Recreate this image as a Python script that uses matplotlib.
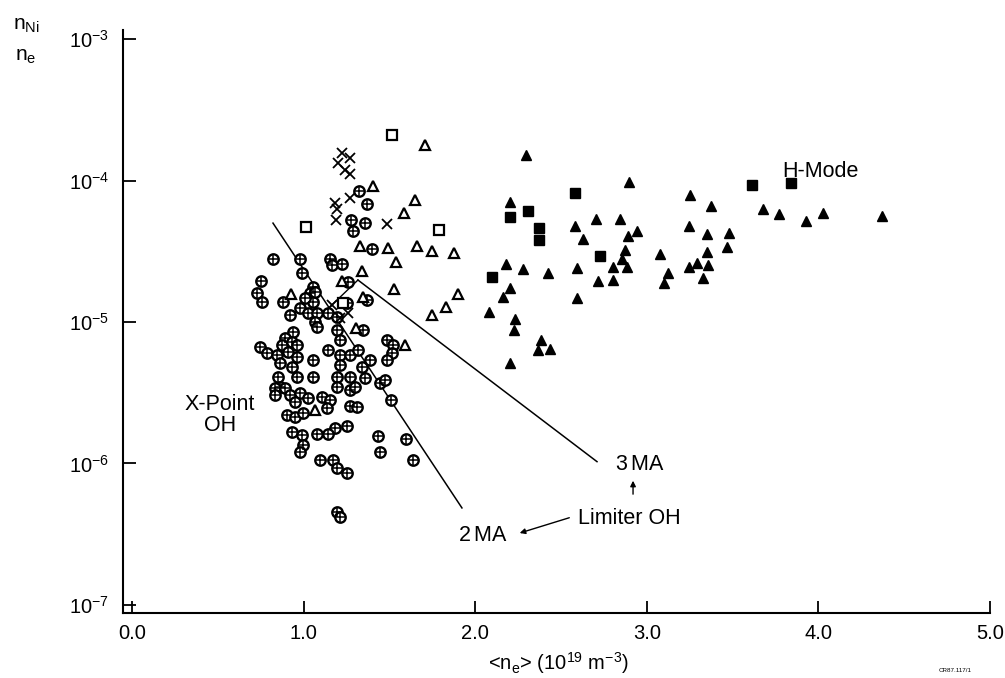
import numpy as np
import matplotlib
matplotlib.use("Agg")
import matplotlib.pyplot as plt
from matplotlib.ticker import FixedLocator, NullLocator

plt.rcParams['font.family'] = ['Liberation Sans', 'DejaVu Sans']
plt.rcParams['mathtext.fontset'] = 'custom'
plt.rcParams['mathtext.rm'] = 'Liberation Sans'

### data

# X-point OH (circled plus)
xp_x = [1.323, 1.369, 1.358, 1.276, 1.288, 0.822, 0.979, 1.154, 1.166, 1.224,
        1.399, 0.752, 0.991, 1.055, 1.037, 1.259, 0.728, 0.758, 0.880, 0.979,
        1.055, 1.026, 1.142, 1.253, 1.369, 1.066, 1.008, 1.078, 1.066, 1.078,
        1.195, 1.195, 1.212, 1.346, 0.938, 0.892, 0.874, 0.932, 0.962, 0.746,
        0.787, 0.845, 0.909, 0.962, 0.862, 0.932, 0.851, 0.862, 0.962, 1.055,
        1.055, 1.142, 1.212, 1.270, 1.317, 1.212, 1.195, 1.195, 1.270, 1.270,
        1.300, 1.340, 1.387, 1.358, 1.486, 1.521, 1.515, 1.486, 1.445, 1.474,
        1.509, 0.833, 0.833, 0.892, 0.921, 0.979, 1.026, 0.950, 1.107, 1.154,
        0.903, 0.950, 0.997, 1.136, 1.270, 1.311, 1.183, 1.253, 0.932, 0.991,
        1.078, 1.142, 0.997, 0.979, 1.096, 1.171, 1.195, 1.253, 1.434, 1.445,
        1.597, 1.638, 1.195, 1.212, 0.921]
xp_y = [8.43e-5, 6.82e-5, 5.01e-5, 5.26e-5, 4.40e-5, 2.79e-5, 2.79e-5, 2.79e-5, 2.53e-5, 2.57e-5,
        3.28e-5, 1.95e-5, 2.22e-5, 1.77e-5, 1.60e-5, 1.92e-5, 1.60e-5, 1.38e-5, 1.38e-5, 1.26e-5,
        1.38e-5, 1.16e-5, 1.16e-5, 1.36e-5, 1.43e-5, 1.63e-5, 1.48e-5, 1.16e-5, 1.00e-5, 9.22e-6,
        1.08e-5, 8.78e-6, 7.46e-6, 8.78e-6, 8.50e-6, 7.71e-6, 6.88e-6, 7.22e-6, 6.88e-6, 6.65e-6,
        6.04e-6, 5.85e-6, 6.14e-6, 5.66e-6, 5.13e-6, 4.81e-6, 4.08e-6, 3.47e-6, 4.08e-6, 5.38e-6,
        4.08e-6, 6.34e-6, 5.85e-6, 5.85e-6, 6.34e-6, 4.97e-6, 4.08e-6, 3.47e-6, 4.08e-6, 3.30e-6,
        3.47e-6, 4.81e-6, 5.38e-6, 4.02e-6, 7.46e-6, 6.88e-6, 6.04e-6, 5.38e-6, 3.71e-6, 3.89e-6,
        2.81e-6, 3.42e-6, 3.05e-6, 3.42e-6, 3.05e-6, 3.15e-6, 2.90e-6, 2.72e-6, 2.95e-6, 2.81e-6,
        2.20e-6, 2.13e-6, 2.28e-6, 2.47e-6, 2.55e-6, 2.51e-6, 1.78e-6, 1.84e-6, 1.67e-6, 1.59e-6,
        1.62e-6, 1.62e-6, 1.35e-6, 1.21e-6, 1.06e-6, 1.06e-6, 9.3e-7, 8.57e-7, 1.56e-6, 1.21e-6,
        1.49e-6, 1.06e-6, 4.54e-7, 4.19e-7, 1.12e-5]

# limiter OH, open triangles
lt_x = [1.707, 1.404, 1.649, 1.585, 1.329, 1.492, 1.661, 1.748, 1.876, 1.538,
        1.340, 1.224, 1.527, 1.900, 1.830, 1.748, 0.927, 1.346, 1.591, 1.305, 1.066]
lt_y = [1.78e-4, 9.1e-5, 7.3e-5, 5.9e-5, 3.44e-5, 3.33e-5, 3.44e-5, 3.2e-5, 3.07e-5, 2.65e-5,
        2.29e-5, 1.95e-5, 1.71e-5, 1.58e-5, 1.28e-5, 1.12e-5, 1.58e-5, 1.5e-5, 6.9e-6, 9.1e-6, 2.39e-6]

# limiter OH, crosses
lx_x = [1.224, 1.270, 1.200, 1.241, 1.270, 1.270, 1.183, 1.195, 1.189, 1.486, 1.166, 1.259, 1.212]
lx_y = [1.56e-4, 1.44e-4, 1.33e-4, 1.19e-4, 1.11e-4, 7.5e-5, 6.9e-5, 6.3e-5, 5.3e-5, 4.9e-5,
        1.32e-5, 1.16e-5, 1.07e-5]

# limiter OH, open squares
ls_x = [1.515, 1.014, 1.789, 1.230]
ls_y = [2.1e-4, 4.7e-5, 4.5e-5, 1.36e-5]

# H-mode, filled triangles
ht_x = [2.296, 2.896, 2.203, 3.252, 3.374, 2.704, 2.844, 2.582, 3.246, 2.943,
        2.890, 3.351, 3.479, 2.628, 3.467, 3.351, 3.077, 2.873, 2.855, 2.885,
        2.803, 3.292, 3.246, 3.357, 3.124, 3.100, 3.328, 2.179, 2.279, 2.424,
        2.593, 2.716, 2.803, 2.203, 2.162, 2.593, 2.080, 2.232, 2.226, 2.383,
        2.366, 2.436, 2.203, 3.677, 3.770, 3.928, 4.027, 4.371]
ht_y = [1.51e-4, 9.75e-5, 7.05e-5, 7.9e-5, 6.6e-5, 5.35e-5, 5.35e-5, 4.77e-5, 4.77e-5, 4.39e-5,
        4.05e-5, 4.19e-5, 4.25e-5, 3.86e-5, 3.39e-5, 3.12e-5, 3.03e-5, 3.23e-5, 2.79e-5, 2.45e-5,
        2.45e-5, 2.61e-5, 2.45e-5, 2.53e-5, 2.22e-5, 1.89e-5, 2.05e-5, 2.57e-5, 2.37e-5, 2.22e-5,
        2.41e-5, 1.95e-5, 1.98e-5, 1.74e-5, 1.5e-5, 1.48e-5, 1.18e-5, 1.05e-5, 8.8e-6, 7.46e-6,
        6.34e-6, 6.44e-6, 5.13e-6, 6.3e-5, 5.8e-5, 5.18e-5, 5.9e-5, 5.6e-5]

# H-mode, filled squares
hs_x = [2.582, 2.308, 2.203, 2.372, 2.372, 2.727, 2.098, 3.613, 3.840]
hs_y = [8.2e-5, 6.1e-5, 5.5e-5, 4.6e-5, 3.8e-5, 2.92e-5, 2.08e-5, 9.3e-5, 9.6e-5]

# guide lines (2 MA, 3 MA)
ma2_x = [0.822, 1.923]
ma2_y = [5.0e-5, 4.85e-7]
ma3_x = [1.317, 2.710]
ma3_y = [1.98e-5, 1.03e-6]
ma3b_x = [1.154, 1.317]
ma3b_y = [1.28e-5, 1.98e-5]

xticks = [0.0, 1.0, 2.0, 3.0, 4.0, 5.0]
yticks = [1e-7, 1e-6, 1e-5, 1e-4, 1e-3]

fig = plt.figure(figsize=(10.05, 6.78), dpi=100)
ax = fig.add_axes([123/1005, 1 - 613/678, (990 - 123)/1005, (613 - 30)/678])
ax.set_yscale('log')

k = 'black'
ax.plot(ma2_x, ma2_y, color=k, lw=1.1)
ax.plot(ma3_x, ma3_y, color=k, lw=1.1)
ax.plot(ma3b_x, ma3b_y, color=k, lw=1.0)

ax.plot(xp_x, xp_y, 'o', ms=7.5, mfc='white', mec=k, mew=1.7, ls='none')
ax.plot(xp_x, xp_y, '+', ms=7.5, mec=k, mew=1.1, ls='none')
ax.plot(lt_x, lt_y, '^', ms=7, mfc='white', mec=k, mew=1.6, ls='none')
ax.plot(lx_x, lx_y, 'x', ms=7, mec=k, mew=1.3, ls='none')
ax.plot(ls_x, ls_y, 's', ms=7, mfc='white', mec=k, mew=1.6, ls='none')
ax.plot(ht_x, ht_y, '^', ms=7.5, mfc=k, mec=k, ls='none')
ax.plot(hs_x, hs_y, 's', ms=6.5, mfc=k, mec=k, ls='none')

ax.set_xlim(-0.052, 5.0)
ax.set_ylim(10**-7.057, 10**-2.936)

ax.xaxis.set_major_locator(FixedLocator(xticks))
ax.set_xticklabels(['%.1f' % t for t in xticks])
ax.yaxis.set_major_locator(FixedLocator(yticks))
ax.yaxis.set_minor_locator(NullLocator())
ax.set_yticklabels([r'$\mathregular{10^{%d}}$' % int(np.log10(t)) for t in yticks])
ax.tick_params(axis='both', direction='in', length=9, width=1.3, labelsize=14.5)
ax.tick_params(axis='x', pad=8)
ax.tick_params(axis='y', pad=10)

for s in ['top', 'right']:
    ax.spines[s].set_visible(False)
for s in ['left', 'bottom']:
    ax.spines[s].set_linewidth(1.5)

# labels on the plot
ax.text(4.01, 1.15e-4, 'H-Mode', fontsize=15.5, ha='center', va='center')
ax.text(0.513, 2.2e-6, 'X-Point\nOH', fontsize=15.5, ha='center', va='center', linespacing=1.0)
ax.text(2.96, 9.8e-7, r'3$\,$MA', fontsize=15.5, ha='center', va='center')
ax.text(2.90, 4.1e-7, 'Limiter OH', fontsize=15.5, ha='center', va='center')
ax.text(2.045, 3.1e-7, r'2$\,$MA', fontsize=15.5, ha='center', va='center')
ax.annotate('', xy=(2.92, 7.9e-7), xytext=(2.92, 5.8e-7),
            arrowprops=dict(arrowstyle='-|>', color=k, lw=1.0, mutation_scale=8))
ax.annotate('', xy=(2.244, 3.18e-7), xytext=(2.564, 4.19e-7),
            arrowprops=dict(arrowstyle='-|>', color=k, lw=1.0, mutation_scale=8))

# axis titles
fig.text(13/1005, 1 - 29/678, r'n$_{\mathregular{Ni}}$', fontsize=15, ha='left', va='baseline')
fig.text(15/1005, 1 - 60/678, r'n$_{\mathregular{e}}$', fontsize=15, ha='left', va='baseline')
fig.text(558/1005, 1 - 663/678, r'<n$_{\mathregular{e}}$> (10$^{\mathregular{19}}$ m$^{\mathregular{-3}}$)',
         fontsize=14.5, ha='center', va='center')
fig.text(955/1005, 1 - 670/678, 'CR87.117/1', fontsize=4.5, ha='center', va='center')

fig.savefig('out.png', dpi=100)
plt.close(fig)
